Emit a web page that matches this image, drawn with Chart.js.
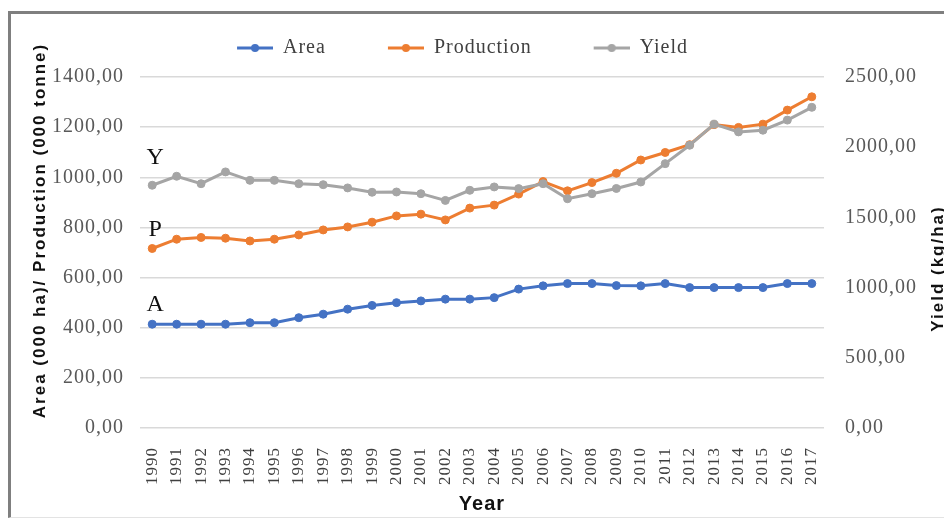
<!DOCTYPE html>
<html>
<head>
<meta charset="utf-8">
<title>Area, Production and Yield 1990-2017</title>
<script src="https://cdn.jsdelivr.net/npm/chart.js@4.4.1/dist/chart.umd.min.js"></script>
<style>
  html, body { margin: 0; padding: 0; background: #fff; overflow: hidden; }
  #frame {
    position: absolute; left: 8px; top: 11px; width: 1000px; height: 503px;
    border-top: 3px solid #7f7f7f; border-left: 3px solid #7f7f7f; border-bottom: 1px solid #e3e3e3;
  }
  #chart { position: absolute; left: 0; top: 0; }
</style>
</head>
<body>
<div id="frame"></div>
<canvas id="chart" width="960" height="524"></canvas>
<script>
// Years on the x axis
const years = ['1990', '1991', '1992', '1993', '1994', '1995', '1996', '1997', '1998', '1999',
  '2000', '2001', '2002', '2003', '2004', '2005', '2006', '2007', '2008', '2009',
  '2010', '2011', '2012', '2013', '2014', '2015', '2016', '2017'];

// Area (000 ha) - left axis
const area = [414, 414, 414, 414, 420, 420, 440, 454, 474, 489,
  500, 507, 514, 514, 520, 554, 567, 576, 576, 568,
  567, 576, 560, 560, 560, 560, 576, 576];

// Production (000 tonne) - left axis
const production = [716, 753, 760, 757, 746, 753, 770, 790, 802, 821,
  846, 853, 830, 877, 889, 933, 983, 946, 979, 1016,
  1069, 1099, 1130, 1210, 1199, 1212, 1268, 1321];

// Yield (kg/ha) - right axis
const yieldKg = [1729, 1793, 1740, 1824, 1764, 1764, 1740, 1733, 1710, 1679,
  1681, 1669, 1621, 1693, 1717, 1705, 1740, 1633, 1669, 1706,
  1752, 1883, 2014, 2164, 2109, 2121, 2193, 2284];

const seriesNames = ['Area', 'Production', 'Yield'];
const seriesTags = ['A', 'P', 'Y'];
const seriesColors = ['#4472C4', '#ED7D31', '#A5A5A5'];

// Tick values
const leftTicks = [0, 200, 400, 600, 800, 1000, 1200, 1400];
const rightTicks = [0, 500, 1000, 1500, 2000, 2500];

const serif = '"Liberation Serif", "Times New Roman", serif';
const sans = '"Liberation Sans", Arial, sans-serif';
const tagLift = [13, 12, 21];

// 1400.00 -> "1400,00"
function fmt(v) {
  return v.toFixed(2).replace('.', ',');
}

// legend marker: short line with a dot, drawn on a small canvas
function legendMarker(color) {
  const c = document.createElement('canvas');
  c.width = 81;
  c.height = 12;
  const g = c.getContext('2d');
  g.strokeStyle = color;
  g.lineWidth = 3;
  g.beginPath();
  g.moveTo(45, 6);
  g.lineTo(81, 6);
  g.stroke();
  g.fillStyle = color;
  g.beginPath();
  g.arc(63, 6, 4, 0, Math.PI * 2);
  g.fill();
  return c;
}

const datasets = [area, production, yieldKg].map((data, i) => ({
  label: seriesNames[i],
  data: data,
  yAxisID: i === 2 ? 'y1' : 'y',
  borderColor: seriesColors[i],
  backgroundColor: seriesColors[i],
  borderWidth: 3,
  pointRadius: 4,
  pointBorderWidth: 1,
  pointHoverRadius: 4,
  tension: 0,
  order: 3 - i
}));

// slightly wider text like the original
const spacing = {
  id: 'spacing',
  beforeUpdate(chart) { chart.ctx.letterSpacing = '1px'; },
  beforeDraw(chart) { chart.ctx.letterSpacing = '1px'; }
};

// some room between legend and plot, and legend nudged left
const legendGap = {
  id: 'legendGap',
  beforeLayout(chart) {
    const lg = chart.legend;
    if (lg && !lg._gapped) {
      const fit = lg.fit;
      lg.fit = function () { fit.call(this); this.height += 9; };
      lg._gapped = true;
    }
  },
  afterLayout(chart) {
    chart.legend.left -= 31;
    chart.legend.right -= 31;
  }
};

// A / P / Y tags and the two vertical axis titles
const extras = {
  id: 'extras',
  afterDatasetsDraw(chart) {
    const ctx = chart.ctx;
    ctx.save();
    ctx.letterSpacing = '0px';
    ctx.font = '24px ' + serif;
    ctx.fillStyle = '#111';
    ctx.textAlign = 'center';
    ctx.textBaseline = 'alphabetic';
    seriesTags.forEach((t, i) => {
      const p = chart.getDatasetMeta(i).data[0];
      ctx.fillText(t, p.x + 3, p.y - tagLift[i]);
    });
    ctx.restore();

    const mid = (chart.chartArea.top + chart.chartArea.bottom) / 2;
    ctx.save();
    ctx.letterSpacing = '2px';
    ctx.font = 'bold 17px ' + sans;
    ctx.fillStyle = '#111';
    ctx.textAlign = 'center';
    ctx.textBaseline = 'middle';
    ctx.translate(40, mid - 22);
    ctx.rotate(-Math.PI / 2);
    ctx.fillText('Area (000 ha)/ Production (000 tonne)', 0, 0);
    ctx.restore();

    ctx.save();
    ctx.letterSpacing = '2px';
    ctx.font = 'bold 17px ' + sans;
    ctx.fillStyle = '#111';
    ctx.textAlign = 'center';
    ctx.textBaseline = 'middle';
    ctx.translate(chart.width - 22, mid + 16);
    ctx.rotate(-Math.PI / 2);
    ctx.fillText('Yield (kg/ha)', 0, 0);
    ctx.restore();
  }
};

Chart.defaults.font.family = serif;

new Chart(document.getElementById('chart'), {
  type: 'line',
  data: { labels: years, datasets: datasets },
  options: {
    responsive: false,
    animation: false,
    devicePixelRatio: 1,
    events: [],
    layout: { padding: { top: 21, right: 18, bottom: 0, left: 0 } },
    plugins: {
      tooltip: { enabled: false },
      legend: {
        position: 'top',
        labels: {
          usePointStyle: true,
          pointStyleWidth: 81,
          padding: 17,
          color: '#404040',
          font: { size: 20, family: serif },
          generateLabels: chart => seriesNames.map((name, i) => ({
            text: name,
            datasetIndex: i,
            pointStyle: legendMarker(seriesColors[i]),
            fillStyle: seriesColors[i],
            strokeStyle: seriesColors[i],
            lineWidth: 0,
            fontColor: '#404040',
            hidden: false
          }))
        }
      }
    },
    scales: {
      x: {
        type: 'category',
        offset: true,
        grid: { display: false },
        border: { display: false },
        ticks: {
          autoSkip: false,
          minRotation: 90,
          maxRotation: 90,
          padding: 11,
          color: '#404040',
          font: { size: 17, family: serif }
        },
        title: {
          display: true,
          text: 'Year',
          color: '#111',
          font: { size: 20, weight: 'bold', family: sans },
          padding: { top: 0, bottom: 8 }
        },
        afterFit: s => { s.height = 96; }
      },
      y: {
        position: 'left',
        min: leftTicks[0],
        max: leftTicks[leftTicks.length - 1],
        afterBuildTicks: s => { s.ticks = leftTicks.map(v => ({ value: v })); },
        grid: { color: '#d9d9d9', lineWidth: 1.5, drawTicks: false },
        border: { display: false },
        ticks: {
          padding: 16,
          color: '#595959',
          font: { size: 20, family: serif },
          callback: v => fmt(v)
        },
        afterFit: s => { s.width = 140; }
      },
      y1: {
        position: 'right',
        min: rightTicks[0],
        max: rightTicks[rightTicks.length - 1],
        afterBuildTicks: s => { s.ticks = rightTicks.map(v => ({ value: v })); },
        grid: { display: false, drawTicks: false },
        border: { display: false },
        ticks: {
          padding: 21,
          color: '#595959',
          font: { size: 20, family: serif },
          callback: v => fmt(v)
        },
        afterFit: s => { s.width = 118; }
      }
    }
  },
  plugins: [spacing, legendGap, extras]
});
</script>
</body>
</html>
